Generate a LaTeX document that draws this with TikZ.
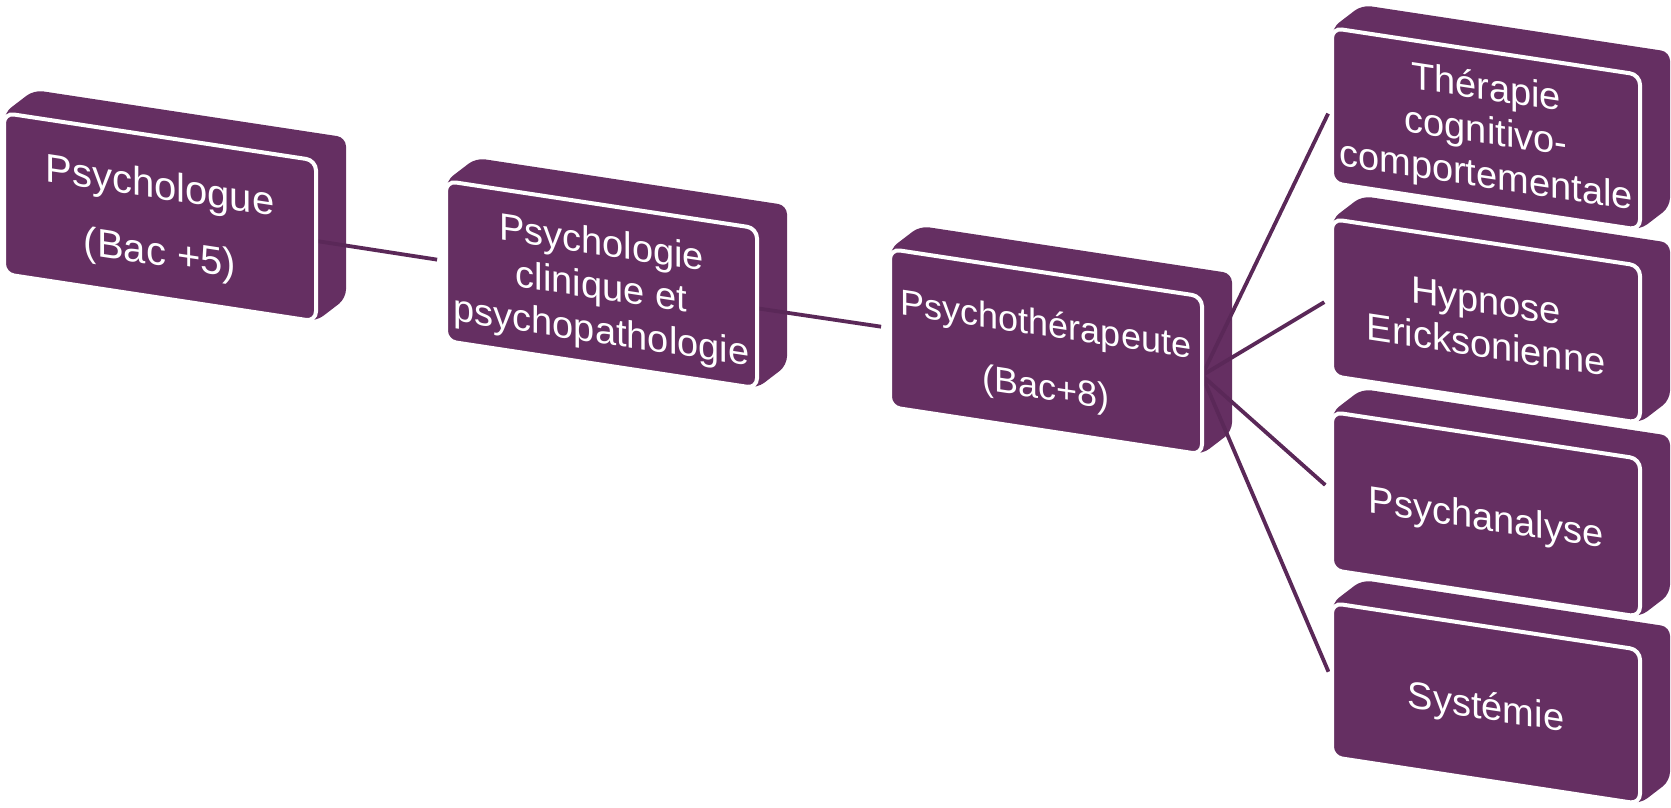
\documentclass[tikz,border=0pt]{standalone}
\usepackage{fontspec}
\setmainfont{Liberation Sans}
\definecolor{boxpurple}{RGB}{101,47,98}
\definecolor{linepurple}{RGB}{90,40,88}
\newcommand\boxlines[1]{\begin{tabular}{@{}c@{}}#1\end{tabular}}
\tikzset{
  extr/.style={fill=boxpurple, rounded corners=9pt},
  face/.style={fill=boxpurple, draw=white, line width=4pt, rounded corners=10pt},
  lbl/.style={text=white, font=\fontsize{38}{44}\selectfont,
              yslant=-0.152, transform shape, inner sep=0pt, yshift=-6pt},
  conn/.style={draw=linepurple, line width=3.8pt, shorten >=9pt},
}
% #1 name, #2 x0, #3 y0, #4 width, #5 height
\newcommand\boxcoords[5]{%
  \coordinate (#1-tl) at (#2,#3);
  \coordinate (#1-tr) at ({#2+#4},{#3+0.152*#4});
  \coordinate (#1-br) at ({#2+#4},{#3+0.152*#4+#5});
  \coordinate (#1-bl) at (#2,{#3+#5});
  \coordinate (#1-w) at (#2,{#3+#5/2});
  \coordinate (#1-e) at ({#2+#4},{#3+0.152*#4+#5/2});
  \coordinate (#1-c) at ({#2+#4/2},{#3+0.076*#4+#5/2});
  \fill[extr] (#1-bl) -- (#1-tl) -- ([shift={(30,-23)}]#1-tl)
     -- ([shift={(30,-23)}]#1-tr) -- ([shift={(30,-23)}]#1-br) -- (#1-br) -- cycle;
}
\newcommand\boxface[1]{%
  \draw[face] (#1-tl) -- (#1-tr) -- (#1-br) -- (#1-bl) -- cycle;
}
\begin{document}
\begin{tikzpicture}[x=1pt,y=-1pt]
\useasboundingbox (0,0) rectangle (1671,807);
% extrusions
\boxcoords{b1}{4}{113}{312}{161}
\boxcoords{b2}{446}{181}{311}{160}
\boxcoords{b3}{890}{249}{312}{158}
\boxcoords{ba}{1332}{28}{308}{155}
\boxcoords{bb}{1332}{219}{308}{157}
\boxcoords{bc}{1332}{412}{308}{158}
\boxcoords{bd}{1332}{603}{308}{154}
% connectors
\draw[conn] (b1-e) -- (b2-w);
\draw[conn] (b2-e) -- (b3-w);
\draw[conn] (b3-e) -- (ba-w);
\draw[conn] (b3-e) -- (bb-w);
\draw[conn] (b3-e) -- (bc-w);
\draw[conn] (b3-e) -- (bd-w);
% front faces
\boxface{b1}
\boxface{b2}
\boxface{b3}
\boxface{ba}
\boxface{bb}
\boxface{bc}
\boxface{bd}
% labels
\node[lbl, font=\fontsize{40}{46}\selectfont] (n1) at (b1-c) {\boxlines{Psychologue\\[21pt](Bac +5)}};
\node[lbl] (n2) at (b2-c) {\boxlines{Psychologie\\clinique et\\psychopathologie}};
\node[lbl, font=\fontsize{36}{41}\selectfont, yshift=-2pt] (n3) at (b3-c) {\boxlines{Psychothérapeute\\[22pt](Bac+8)}};
\node[lbl] (na) at (ba-c) {\boxlines{Thérapie\\cognitivo-\\comportementale}};
\node[lbl] (nb) at (bb-c) {\boxlines{Hypnose\\Ericksonienne}};
\node[lbl] (nc) at (bc-c) {Psychanalyse};
\node[lbl] (nd) at (bd-c) {Systémie};
\end{tikzpicture}
\end{document}
